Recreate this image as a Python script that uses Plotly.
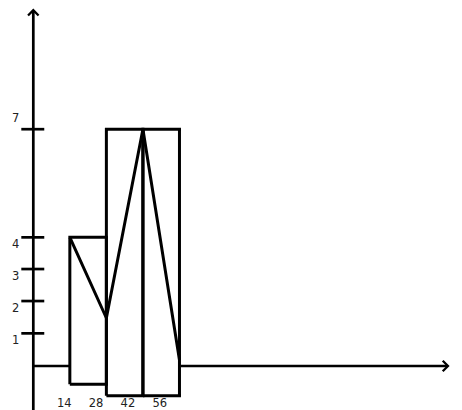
import plotly.graph_objects as go

# bar outlines (heights in drawn grid units)
box_left = [14, 28, 42]
box_right = [28, 42, 56]
box_top = [4.02, 7.4, 7.4]
box_bottom = [-0.57, -0.93, -0.93]

# zig-zag line through the boxes
zig_x = [14, 28, 42, 56]
zig_y = [4.02, 1.5, 7.4, 0.19]

# axis labels
y_ticks = [1.02, 2.03, 3.03, 4.02, 7.4]
y_tick_text = ["1", "2", "3", "4", "7"]
x_ticks = [14, 28, 42, 56]
x_tick_text = ["14", "28", "42", "56"]

x_end = 159.5
y_end = 11.17

LW = 3
AXW = 2.7
FONT = dict(family="DejaVu Sans, Verdana, sans-serif", size=11.5, color="#222")

fig = go.Figure()

# base line from the y axis to the first box, and from the last box on
fig.add_trace(go.Scatter(x=[0, box_left[0]], y=[0, 0], mode="lines",
                         line=dict(color="black", width=AXW), hoverinfo="skip"))

for l, r, t, b in zip(box_left, box_right, box_top, box_bottom):
    fig.add_trace(go.Scatter(x=[l, r, r, l, l], y=[b, b, t, t, b], mode="lines",
                             line=dict(color="black", width=LW), hoverinfo="skip"))

fig.add_trace(go.Scatter(x=zig_x, y=zig_y, mode="lines",
                         line=dict(color="black", width=LW), hoverinfo="skip"))

# y tick marks
tx, ty = [], []
for v in y_ticks:
    tx += [-4.6, 4.2, None]
    ty += [v, v, None]
fig.add_trace(go.Scatter(x=tx, y=ty, mode="lines",
                         line=dict(color="black", width=AXW), hoverinfo="skip"))

# x labels sit on their own (hand drawn) spacing
fig.add_trace(go.Scatter(x=x_ticks, y=[-1.19] * len(x_ticks), mode="text",
                         text=x_tick_text, textfont=FONT, xaxis="x2",
                         textposition="middle center", hoverinfo="skip"))

# axes with open arrow heads
fig.add_annotation(x=0, y=y_end, ax=0, ay=-1.6, xref="x", yref="y", axref="x", ayref="y",
                   text="", showarrow=True, arrowhead=4, arrowwidth=AXW, arrowsize=0.75,
                   arrowcolor="black")
fig.add_annotation(x=x_end, y=0, ax=box_right[-1], ay=0, xref="x", yref="y", axref="x", ayref="y",
                   text="", showarrow=True, arrowhead=4, arrowwidth=AXW, arrowsize=0.75,
                   arrowcolor="black")

for v, t in zip(y_ticks, y_tick_text):
    fig.add_annotation(x=-6.7, y=v, text=t, showarrow=False, font=FONT,
                       xanchor="center", yshift=11 if t == "7" else -6.5)

fig.update_layout(
    width=462, height=410,
    margin=dict(l=0, r=0, t=0, b=0),
    paper_bgcolor="white", plot_bgcolor="white",
    showlegend=False,
    xaxis=dict(range=[-12.76, 164.25], visible=False, fixedrange=True),
    xaxis2=dict(range=[-14.25, 188.9], visible=False, overlaying="x", fixedrange=True),
    yaxis=dict(range=[-1.375, 11.4375], visible=False, fixedrange=True),
)

fig.write_html("out.html", config={"displayModeBar": False},
               post_script="document.body.style.margin='0';")
